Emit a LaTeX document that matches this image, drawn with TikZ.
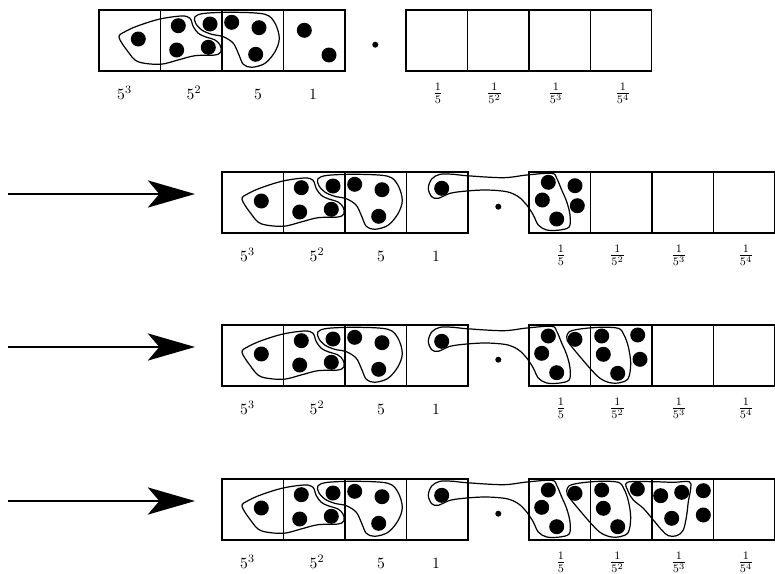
\documentclass[tikz,border=0pt]{standalone}
\usetikzlibrary{arrows.meta}
\tikzset{
  cellbox/.style={draw, line width=1.05pt},
  blob/.style={draw, line width=0.85pt, smooth cycle, tension=0.55},
  bigdot/.style={fill=black},
  lbl/.style={inner sep=0pt, anchor=base, font=\fontsize{11}{13}\selectfont},
  fraclbl/.style={inner sep=0pt, anchor=center, font=\fontsize{11.5}{13}\selectfont},
  bigarrow/.style={line width=1.6pt, -{Stealth[length=33pt,width=19pt,inset=8pt]}},
}
\newcommand{\rowcommon}[1]{%
  \draw[cellbox] (99,10) rectangle (345,71)
    (160.5,10) -- (160.5,71) (222,10) -- (222,71) (283.5,10) -- (283.5,71);
  \draw[cellbox] (406,10) rectangle (651.5,71)
    (467.5,10) -- (467.5,71) (529,10) -- (529,71) (590.5,10) -- (590.5,71);
  % group around 5^3 and 5^2
  \draw[blob] plot coordinates {(119,37.3) (125,31.7) (138.3,25.7) (160,19) (181.7,16) (190,18.3) (193.3,26.7) (198.3,33.3) (205,36.7) (215,40) (220,45) (221,51.7) (215,55) (195,55.7) (178,60) (160,64.3) (138,61.7) (128,51.7)};
  % group around 5^2 and 5
  \draw[blob] plot coordinates {(195,16.7) (205,13.3) (235,12.3) (265,14.3) (275,23.3) (279.3,38.3) (275,51.7) (265,63.3) (251.7,67.3) (243.3,64.3) (239,55) (233.3,43.3) (223.3,36.7) (211.7,34.3) (201.7,30) (195.7,23.3)};
  \foreach \p in {(138.3,39),(178.3,25.7),(176.7,50),(208.3,47.3),(210,24),(231.7,22.3),(259,27.7),(255.7,54.3)}
    \fill[bigdot] \p circle[radius=5.25pt];
  \fill (375.3,44.7) circle[radius=2.1pt];
  \node[lbl] (#1p3) at (124.5,99.5) {$5^3$};
  \node[lbl] (#1p2) at (194,99.5) {$5^2$};
  \node[lbl] (#1p1) at (258,99.5) {$5$};
  \node[lbl] (#1p0) at (313,99.5) {$1$};
  \node[fraclbl] (#1m1) at (438,93.5) {$\frac{1}{5}$};
  \node[fraclbl] (#1m2) at (494.5,93.5) {$\frac{1}{5^2}$};
  \node[fraclbl] (#1m3) at (556,93.5) {$\frac{1}{5^3}$};
  \node[fraclbl] (#1m4) at (623,93.5) {$\frac{1}{5^4}$};
}
\newcommand{\onesgroup}{%
  \draw[blob] plot coordinates {(305.3,26.3) (308.7,17) (317,12.3) (330.3,12.3) (343.7,13.7) (380.3,15.7) (403.7,13) (428.7,11.3) (433.7,16.3) (438.7,28) (443.7,39.7) (447,53) (446.3,64.7) (437,68) (423.7,68) (415.3,63) (410.3,53) (403.7,43) (395.3,34.7) (383.7,29.7) (363.7,28) (343.7,29) (327,31.3) (315.3,36.3) (308.7,34.7)};
  \fill[bigdot] (318.7,26.3) circle[radius=5.25pt];
}
\newcommand{\fifthsgroup}{%
  \draw[blob] plot coordinates {(443.7,21.7) (446.3,16.7) (457,14) (477,12.3) (495.3,13.3) (501,20) (505.3,31.7) (507.7,48.3) (505.3,63.3) (497,67.7) (487,67.7) (477,63.3) (467,53.3) (457,41.7) (448.7,31.7) (444.3,25.7)};
}
\begin{document}
\begin{tikzpicture}[x=0.7pt,y=-0.7pt]
  \useasboundingbox (0,0) rectangle (775,573);
  % row 1
  \rowcommon{a}
  \fill[bigdot] (304.3,30.3) circle[radius=5.25pt];
  \fill[bigdot] (329,55) circle[radius=5.25pt];
  % row 2
  \begin{scope}[shift={(123,162)}]
    \rowcommon{b}
    \onesgroup
    \foreach \p in {(425.3,20.3),(452,23.7),(419.3,38),(454.3,43.7),(433.7,57)}
      \fill[bigdot] \p circle[radius=5.25pt];
  \end{scope}
  % row 3
  \begin{scope}[shift={(123,315)}]
    \rowcommon{c}
    \onesgroup
    \fifthsgroup
    \foreach \p in {(425.3,21),(452,24.3),(418.7,38.3),(433.7,57.7),(478.7,21),(514.7,20),(480.3,39.3),(517,44.3),(494.7,58.3)}
      \fill[bigdot] \p circle[radius=5.25pt];
  \end{scope}
  % row 4
  \begin{scope}[shift={(123,469)}]
    \rowcommon{d}
    \onesgroup
    \fifthsgroup
    \draw[blob] plot coordinates {(504.3,13.3) (530.3,12.7) (550.3,13.3) (566.3,12.7) (567.7,19.3) (565.3,32.7) (563.7,46) (560.3,61) (553.7,66.7) (545.3,66.7) (538.7,61) (530.3,51) (520.3,39.3) (510.3,31) (505.3,22.7)};
    \foreach \p in {(425.3,21),(452,24.3),(418.7,38.3),(433.7,57.7),(478.7,21),(514.3,20),(480.3,39.3),(494.7,57.7),(537.7,26.7),(558.7,23.3),(580.3,21.7),(548.7,49.3),(580.3,46)}
      \fill[bigdot] \p circle[radius=5.25pt];
  \end{scope}
  % arrows
  \coordinate (s2) at (8,194);  \coordinate (e2) at (195,194);
  \coordinate (s3) at (8,347);  \coordinate (e3) at (195,347);
  \coordinate (s4) at (8,501);  \coordinate (e4) at (195,501);
  \draw[bigarrow] (s2) -- (e2);
  \draw[bigarrow] (s3) -- (e3);
  \draw[bigarrow] (s4) -- (e4);
\end{tikzpicture}
\end{document}
